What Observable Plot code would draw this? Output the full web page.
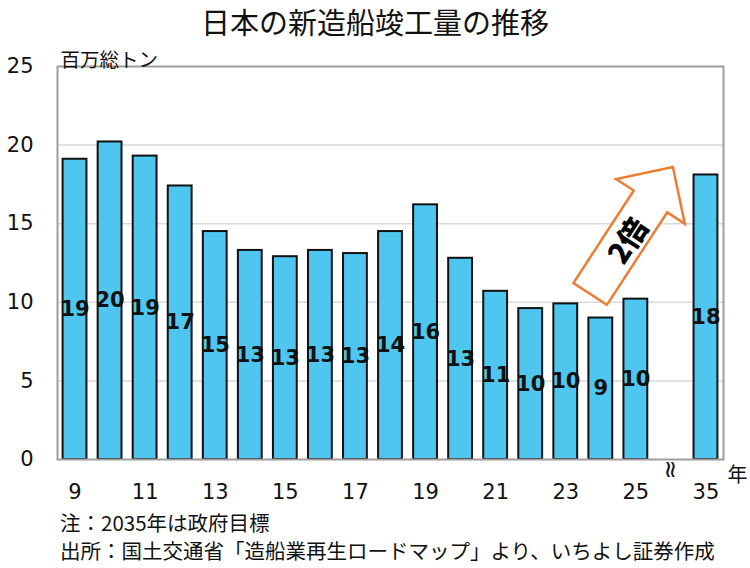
<!DOCTYPE html>
<html>
<head>
<meta charset="utf-8">
<script src="https://cdn.jsdelivr.net/npm/d3@7"></script>
<script src="https://cdn.jsdelivr.net/npm/@observablehq/plot@0.6"></script>
<style>
  html, body { margin: 0; padding: 0; background: #fff; }
  body { width: 750px; height: 568px; overflow: hidden; font-family: "Noto Sans CJK JP", sans-serif; }
  #title { height: 42px; line-height: 42px; text-align: center; font-size: 29px; color: #111; }
  #caption { padding-left: 60px; font-size: 20.5px; line-height: 28px; color: #111; white-space: nowrap; }
</style>
</head>
<body>
<div id="title">日本の新造船竣工量の推移</div>
<div id="chart"></div>
<div id="caption">注：2035年は政府目標<br>出所：国土交通省「造船業再生ロードマップ」より、いちよし証券作成</div>
<script>
// Data
const years = ["9","10","11","12","13","14","15","16","17","18","19","20","21","22","23","24","25","35"];
const slots = [9,10,11,12,13,14,15,16,17,18,19,20,21,22,23,24,25,27];
const values = [19.1,20.2,19.3,17.4,14.5,13.3,12.9,13.3,13.1,14.5,16.2,12.8,10.7,9.6,9.9,9.0,10.2,18.1];
const labels = ["19","20","19","17","15","13","13","13","13","14","16","13","11","10","10","9","10","18"];
const xTicks = [9,11,13,15,17,19,21,23,25,27];
const xTickLabels = ["9","11","13","15","17","19","21","23","25","35"];
const yTicks = [0,5,10,15,20,25];
const gapSlot = [26];
const arrowFrom = {x: 23.71, y: 10.5};
const arrowTo = {x: 26.07, y: 18.57};
const arrowText = "2倍";

const data = years.map((y, i) => ({year: y, pos: slots[i], value: values[i], label: labels[i]}));

function arrowMark(index, scales) {
  const x = scales.x, y = scales.y;
  const x0 = x(arrowFrom.x), y0 = y(arrowFrom.y);
  const x1 = x(arrowTo.x), y1 = y(arrowTo.y);
  const dx = x1 - x0, dy = y1 - y0, L = Math.hypot(dx, dy);
  const ux = dx / L, uy = dy / L, nx = -uy, ny = ux;
  const sw = 20, hw = 41, hl = 41;
  const bx = x1 - ux * hl, by = y1 - uy * hl;
  const pts = [
    [x0 + nx * sw, y0 + ny * sw],
    [bx + nx * sw, by + ny * sw],
    [bx + nx * hw, by + ny * hw],
    [x1, y1],
    [bx - nx * hw, by - ny * hw],
    [bx - nx * sw, by - ny * sw],
    [x0 - nx * sw, y0 - ny * sw]
  ];
  const g = d3.create("svg:g");
  g.append("polygon")
    .attr("points", pts.map(p => p.join(",")).join(" "))
    .attr("fill", "#fff")
    .attr("stroke", "#ED7D31")
    .attr("stroke-width", 2.5)
    .attr("stroke-linejoin", "miter");
  const t = 0.43;
  const cx = x0 + dx * t, cy = y0 + dy * t;
  const ang = Math.atan2(dy, dx) * 180 / Math.PI;
  g.append("text")
    .attr("transform", `translate(${cx},${cy}) rotate(${ang})`)
    .attr("text-anchor", "middle")
    .attr("dominant-baseline", "central")
    .attr("font-family", "'Noto Sans CJK JP', sans-serif")
    .attr("font-weight", "900")
    .attr("font-size", 29)
    .attr("fill", "#000")
    .text(arrowText);
  return g.node();
}

const chart = Plot.plot({
  width: 750,
  height: 466,
  marginLeft: 57,
  marginRight: 27,
  marginTop: 24,
  marginBottom: 49,
  style: {fontFamily: "'DejaVu Sans', Verdana, sans-serif", background: "#fff", color: "#111"},
  x: {type: "linear", domain: [8.5, 27.5], axis: null},
  y: {domain: [0, 25], axis: null},
  marks: [
    Plot.gridY(yTicks.filter(v => v > 0 && v < 25), {stroke: "#d9d9d9", strokeOpacity: 1, strokeWidth: 1.5}),
    Plot.rectY(data, {x1: d => d.pos - 0.34, x2: d => d.pos + 0.34, y1: 0, y2: "value", fill: "#4FC6F0", stroke: "#111", strokeWidth: 2}),
    Plot.frame({stroke: "#9e9e9e", strokeWidth: 2}),
    Plot.text(data, {x: "pos", y: d => d.value / 2, text: "label", fontSize: 21, fontWeight: "bold", fill: "#111", fontFamily: "'DejaVu Sans', Verdana, sans-serif"}),
    Plot.axisY(yTicks, {tickSize: 0, tickPadding: 24, fontSize: 21, label: null}),
    Plot.axisX(xTicks, {tickSize: 0, tickPadding: 25, fontSize: 21, label: null, tickFormat: (d) => xTickLabels[xTicks.indexOf(d)]}),
    Plot.text(gapSlot, {x: d => d, y: 0, text: () => "≈", rotate: 90, dy: 10, fontSize: 24, fill: "#111"}),
    Plot.text(["百万総トン"], {frameAnchor: "top-left", textAnchor: "start", dx: 3, dy: -13, fontSize: 19.5, fontFamily: "'Noto Sans CJK JP', sans-serif", fill: "#111"}),
    Plot.text(["年"], {frameAnchor: "bottom-right", textAnchor: "start", dx: 4, dy: 22, fontSize: 20, fontFamily: "'Noto Sans CJK JP', sans-serif", fill: "#111"}),
    arrowMark
  ]
});
document.getElementById("chart").appendChild(chart);
</script>
</body>
</html>
